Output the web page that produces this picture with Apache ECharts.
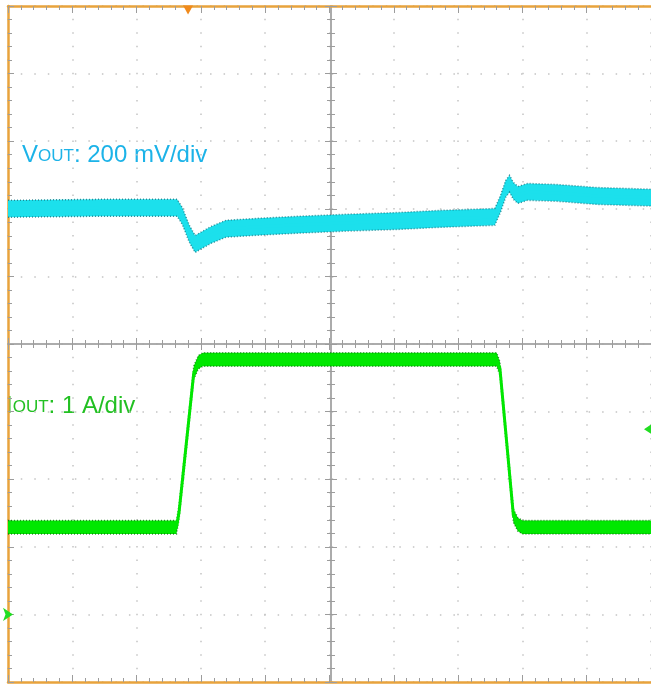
<!DOCTYPE html>
<html>
<head>
<meta charset="utf-8">
<title>Load transient</title>
<script src="https://cdn.jsdelivr.net/npm/echarts@6/dist/echarts.min.js"></script>
<style>
  html, body { margin: 0; padding: 0; background: #fff; }
  #chart { width: 651px; height: 684px; }
</style>
</head>
<body>
<div id="chart"></div>
<script>
// Time in screen divisions (10 div across the screen)
const voutTime = [0, 1.42, 2.63, 2.71, 2.82, 2.91, 3.02, 3.16, 3.39, 3.90, 4.52, 5.29, 6.07, 6.69, 7.57, 7.66, 7.74, 7.80, 7.86, 7.93, 8.08, 8.54, 9.16, 10];
// VOUT deviation, mV (200 mV/div)
const voutMv   = [0, 3, 3, -21, -74, -104, -92, -77, -59, -53, -47, -41, -36, -30, -24, 15, 59, 74, 53, 41, 50, 47, 38, 33];
const voutNoisePP = 50;   // switching ripple, mV peak-to-peak

const ioutTime = [0, 2.62, 2.66, 2.89, 2.96, 3.03, 7.60, 7.65, 7.86, 7.93, 8.00, 10];
// IOUT, A (1 A/div)
const ioutAmp  = [1.29, 1.29, 1.51, 3.58, 3.73, 3.77, 3.77, 3.64, 1.46, 1.33, 1.29, 1.29];
const ioutNoisePP = 0.2;  // A peak-to-peak

const triggerTime = 2.80;   // trigger position marker
const triggerLevel = 2.74;  // IOUT trigger level, A

const voutLabel = ['V', 'OUT', ': 200 mV/div'];
const ioutLabel = ['I', 'OUT', ': 1 A/div'];

const BORDER = '#E8A33C';
const TICK = '#9c9c9c';
const DOTS = '#c4c4c4';
const CYAN = '#1CE0EC';
const GREEN = '#00E800';

const pair = (xs, ys) => xs.map((x, i) => [x, ys[i]]);

const dotted = { show: true, lineStyle: { color: DOTS, width: 1.5, type: [1.5, 12.02], dashOffset: 0.75 } };

function borderX(pos) {
  return {
    type: 'value', min: 0, max: 10, interval: 1, position: pos, gridIndex: 0,
    axisLine: { show: true, onZero: false, lineStyle: { color: BORDER, width: 2.5 } },
    axisTick: { show: true, inside: true, length: 7, lineStyle: { color: TICK } },
    minorTick: { show: true, splitNumber: 5, length: 4, lineStyle: { color: TICK } },
    axisLabel: { show: false },
    splitLine: pos === 'bottom' ? dotted : { show: false },
    minorSplitLine: { show: false }
  };
}
function centerX(inside) {
  return {
    type: 'value', min: 0, max: 10, interval: 1, position: 'bottom', offset: -338,
    axisLine: { show: true, onZero: false, lineStyle: { color: '#a6a6a6', width: 1.5 } },
    axisTick: { show: true, inside: inside, length: 6, lineStyle: { color: TICK } },
    minorTick: { show: true, splitNumber: 5, length: 4, lineStyle: { color: TICK } },
    axisLabel: { show: false }, splitLine: { show: false }
  };
}
function centerY(inside) {
  return {
    type: 'value', min: -5, max: 5, interval: 1, position: 'left', offset: -323,
    axisLine: { show: true, onZero: false, lineStyle: { color: '#a6a6a6', width: 1.5 } },
    axisTick: { show: true, inside: inside, length: 6, lineStyle: { color: TICK } },
    minorTick: { show: true, splitNumber: 5, length: 4, lineStyle: { color: TICK } },
    axisLabel: { show: false }, splitLine: { show: false }
  };
}

// Ripple envelope of a trace: a filled band of the given peak-to-peak height
// around the mean path, placed through the series' own axes.
function rippleBand(name, xs, ys, pp, yAxisIndex, fill, edge) {
  return {
    name: name + ' ripple', type: 'custom', coordinateSystem: 'cartesian2d',
    xAxisIndex: 0, yAxisIndex, silent: true, z: 3,
    data: pair(xs, ys),
    renderItem(params, api) {
      if (params.dataIndex !== 0) return null;
      const upper = xs.map((x, i) => api.coord([x, ys[i] + pp / 2]));
      const lower = xs.map((x, i) => api.coord([x, ys[i] - pp / 2]));
      const edgeStyle = { stroke: edge, lineWidth: 1.5, lineDash: [1, 2], fill: null };
      return {
        type: 'group',
        children: [
          { type: 'polygon', shape: { points: upper.concat(lower.slice().reverse()) }, style: { fill: fill } },
          { type: 'polyline', shape: { points: upper }, style: edgeStyle },
          { type: 'polyline', shape: { points: lower }, style: edgeStyle }
        ]
      };
    }
  };
}

function meanLine(name, xs, ys, yAxisIndex, color) {
  return {
    name: name, type: 'line', xAxisIndex: 0, yAxisIndex, symbol: 'none', silent: true,
    data: pair(xs, ys), lineStyle: { color: color, width: 3, join: 'round' }, z: 4
  };
}

const voutMean = meanLine('VOUT', voutTime, voutMv, 1, CYAN);
voutMean.markPoint = {
  silent: true, animation: false,
  symbol: 'triangle', symbolSize: [10, 9], symbolRotate: 180, symbolOffset: [0, 4],
  itemStyle: { color: '#F08A1C' }, label: { show: false },
  data: [{ coord: [triggerTime, 600] }]
};
const ioutMean = meanLine('IOUT', ioutTime, ioutAmp, 2, GREEN);
ioutMean.markPoint = {
  silent: true, animation: false, label: { show: false },
  itemStyle: { color: '#22DD22' },
  data: [
    { coord: [0, 0], symbol: 'arrow', symbolSize: [10, 10], symbolRotate: -90, symbolOffset: [5, 0] },
    { coord: [10, triggerLevel], symbol: 'arrow', symbolSize: [10, 10], symbolRotate: 90, symbolOffset: [-7, 0] }
  ]
};

const chart = echarts.init(document.getElementById('chart'), null, { renderer: 'canvas' });

chart.setOption({
  animation: false,
  backgroundColor: '#ffffff',
  grid: { left: 8, top: 6, width: 646, height: 676, containLabel: false },
  xAxis: [borderX('bottom'), borderX('top'), centerX(true), centerX(false)],
  yAxis: [
    {
      type: 'value', min: -5, max: 5, interval: 1, position: 'left',
      axisLine: { show: true, onZero: false, lineStyle: { color: BORDER, width: 2.5 } },
      axisTick: { show: true, inside: true, length: 6, lineStyle: { color: TICK } },
      minorTick: { show: true, splitNumber: 5, length: 4, lineStyle: { color: TICK } },
      axisLabel: { show: false },
      splitLine: dotted
    },
    { type: 'value', min: -1400, max: 600, show: false },
    { type: 'value', min: -1, max: 9, show: false },
    centerY(true), centerY(false)
  ],
  graphic: [
    {
      type: 'text', left: 22, top: 143, silent: true,
      style: {
        text: '{a|' + voutLabel[0] + '}{b|' + voutLabel[1] + '}{a|' + voutLabel[2] + '}',
        rich: {
          a: { fontFamily: 'Liberation Sans, Arial', fontSize: 24, fill: '#1CB3E8', verticalAlign: 'bottom' },
          b: { fontFamily: 'Liberation Sans, Arial', fontSize: 17, fill: '#1CB3E8', verticalAlign: 'bottom', padding: [0, 0, 2, 0] }
        }
      }
    },
    {
      type: 'text', left: 6, top: 394, silent: true,
      style: {
        text: '{a|' + ioutLabel[0] + '}{b|' + ioutLabel[1] + '}{a|' + ioutLabel[2] + '}',
        rich: {
          a: { fontFamily: 'Liberation Sans, Arial', fontSize: 24, fill: '#22C022', verticalAlign: 'bottom' },
          b: { fontFamily: 'Liberation Sans, Arial', fontSize: 17, fill: '#22C022', verticalAlign: 'bottom', padding: [0, 0, 2, 0] }
        }
      }
    }
  ],
  series: [
    rippleBand('VOUT', voutTime, voutMv, voutNoisePP, 1, CYAN, 'rgba(18,110,122,0.75)'),
    voutMean,
    rippleBand('IOUT', ioutTime, ioutAmp, ioutNoisePP, 2, GREEN, 'rgba(0,95,0,0.7)'),
    ioutMean
  ]
});
</script>
</body>
</html>
